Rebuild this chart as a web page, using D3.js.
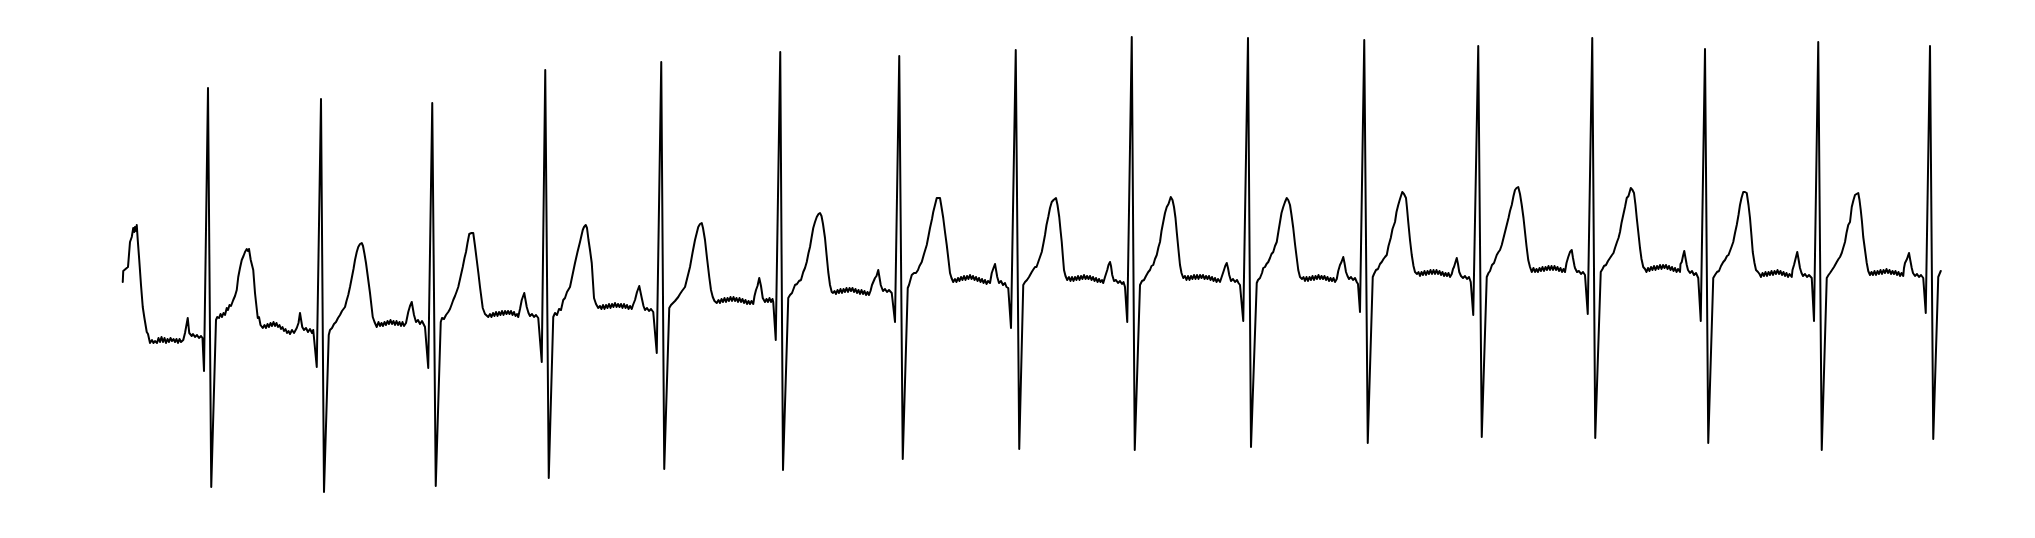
<!DOCTYPE html>
<html>
<head>
<meta charset="utf-8">
<script src="https://cdn.jsdelivr.net/npm/d3@7"></script>
<style>
  html, body { margin: 0; padding: 0; background: #ffffff; }
  svg { display: block; }
</style>
</head>
<body>
<div id="chart"></div>
<script>
// ECG trace: [time in ms, amplitude in mV], grouped by beat (each ends at the S wave)
const beat01 = [[11,0.18],[13,0.29],[27,0.32],[32,0.33],[40,0.58],[47,0.63],[53,0.72],[57,0.68],[60,0.73],[64,0.69],[67,0.75],[71,0.60],[77,0.40],[84,0.15],[91,-0.07],[97,-0.17],[107,-0.32],[112,-0.34],[120,-0.43],[128,-0.40],[134,-0.43],[140,-0.41],[148,-0.43],[154,-0.38],[160,-0.42],[166,-0.37],[172,-0.42],[178,-0.38],[184,-0.43],[190,-0.39],[196,-0.42],[202,-0.38],[208,-0.41],[214,-0.39],[220,-0.42],[226,-0.39],[232,-0.43],[238,-0.39],[244,-0.42],[253,-0.40],[260,-0.33],[271,-0.18],[277,-0.33],[287,-0.36],[292,-0.34],[300,-0.37],[308,-0.35],[316,-0.38],[324,-0.36],[330,-0.38],[336,-0.71],[352,2.12],[365,-1.87]];
const beat02 = [[384,-0.20],[389,-0.17],[396,-0.18],[402,-0.14],[408,-0.17],[414,-0.13],[420,-0.15],[427,-0.08],[432,-0.10],[438,-0.05],[444,-0.06],[453,0.00],[460,0.04],[467,0.10],[473,0.23],[480,0.32],[487,0.40],[494,0.44],[500,0.48],[507,0.51],[512,0.49],[516,0.51],[523,0.40],[533,0.30],[540,0.07],[551,-0.18],[556,-0.17],[562,-0.25],[571,-0.28],[578,-0.25],[584,-0.28],[590,-0.24],[596,-0.27],[602,-0.23],[608,-0.26],[614,-0.22],[620,-0.26],[626,-0.23],[632,-0.27],[638,-0.25],[644,-0.29],[650,-0.27],[656,-0.31],[662,-0.29],[668,-0.33],[674,-0.31],[680,-0.34],[688,-0.30],[696,-0.33],[707,-0.28],[714,-0.23],[720,-0.13],[729,-0.27],[736,-0.30],[744,-0.28],[752,-0.32],[760,-0.29],[768,-0.33],[773,-0.30],[787,-0.67],[804,2.01],[816,-1.92]];
const beat03 = [[835,-0.35],[840,-0.30],[848,-0.28],[856,-0.24],[864,-0.22],[872,-0.18],[880,-0.15],[888,-0.11],[900,-0.07],[906,-0.01],[913,0.05],[920,0.13],[927,0.22],[934,0.31],[940,0.40],[947,0.48],[953,0.53],[960,0.56],[967,0.57],[972,0.54],[978,0.46],[984,0.37],[992,0.22],[1000,0.07],[1011,-0.17],[1018,-0.22],[1027,-0.27],[1034,-0.22],[1040,-0.26],[1046,-0.23],[1052,-0.26],[1058,-0.22],[1064,-0.25],[1070,-0.21],[1076,-0.24],[1082,-0.20],[1088,-0.24],[1094,-0.21],[1100,-0.25],[1106,-0.21],[1112,-0.25],[1118,-0.22],[1124,-0.26],[1130,-0.22],[1136,-0.26],[1144,-0.23],[1153,-0.12],[1160,-0.06],[1167,-0.02],[1176,-0.15],[1184,-0.22],[1192,-0.20],[1200,-0.24],[1208,-0.21],[1216,-0.25],[1220,-0.27],[1233,-0.68],[1249,1.97],[1263,-1.86]];
const beat04 = [[1283,-0.22],[1288,-0.18],[1296,-0.19],[1304,-0.15],[1313,-0.12],[1320,-0.09],[1326,-0.05],[1333,0.00],[1340,0.04],[1346,0.08],[1353,0.13],[1362,0.23],[1371,0.33],[1378,0.42],[1384,0.48],[1390,0.57],[1397,0.66],[1406,0.67],[1413,0.67],[1420,0.54],[1427,0.40],[1434,0.26],[1440,0.13],[1451,-0.08],[1460,-0.14],[1473,-0.17],[1480,-0.14],[1486,-0.17],[1492,-0.13],[1498,-0.16],[1504,-0.12],[1510,-0.16],[1516,-0.12],[1522,-0.15],[1528,-0.11],[1534,-0.15],[1540,-0.11],[1546,-0.14],[1552,-0.11],[1558,-0.14],[1564,-0.11],[1570,-0.15],[1576,-0.12],[1582,-0.16],[1588,-0.14],[1593,-0.17],[1600,-0.09],[1607,0.00],[1617,0.07],[1627,-0.07],[1634,-0.13],[1640,-0.16],[1648,-0.14],[1656,-0.17],[1664,-0.15],[1673,-0.18],[1687,-0.62],[1701,2.30],[1715,-1.78]];
const beat05 = [[1733,-0.17],[1740,-0.13],[1748,-0.15],[1756,-0.09],[1764,-0.10],[1773,0.00],[1780,0.02],[1788,0.08],[1800,0.13],[1810,0.25],[1820,0.37],[1830,0.48],[1840,0.58],[1851,0.70],[1856,0.73],[1863,0.75],[1868,0.72],[1874,0.60],[1880,0.50],[1887,0.37],[1896,0.02],[1904,-0.04],[1913,-0.08],[1920,-0.06],[1926,-0.09],[1932,-0.05],[1938,-0.09],[1944,-0.05],[1950,-0.08],[1956,-0.04],[1962,-0.08],[1968,-0.04],[1974,-0.07],[1980,-0.03],[1986,-0.07],[1992,-0.04],[1998,-0.07],[2004,-0.04],[2010,-0.08],[2016,-0.04],[2022,-0.08],[2028,-0.05],[2034,-0.09],[2040,-0.06],[2047,-0.09],[2052,-0.05],[2060,0.00],[2068,0.08],[2077,0.14],[2087,0.02],[2094,-0.06],[2100,-0.10],[2108,-0.08],[2116,-0.11],[2124,-0.09],[2133,-0.12],[2147,-0.53],[2165,2.38],[2177,-1.69]];
const beat06 = [[2197,-0.08],[2204,-0.05],[2212,-0.03],[2220,-0.01],[2233,0.03],[2240,0.06],[2248,0.09],[2260,0.13],[2270,0.23],[2280,0.33],[2290,0.47],[2300,0.60],[2307,0.67],[2313,0.73],[2320,0.76],[2327,0.77],[2332,0.72],[2340,0.60],[2348,0.42],[2357,0.23],[2364,0.10],[2371,0.03],[2378,-0.01],[2387,-0.03],[2394,0.00],[2400,-0.03],[2406,0.01],[2412,-0.02],[2418,0.02],[2424,-0.02],[2430,0.02],[2436,-0.01],[2442,0.03],[2448,-0.01],[2454,0.03],[2460,-0.01],[2466,0.02],[2472,-0.02],[2478,0.02],[2484,-0.02],[2490,0.01],[2496,-0.03],[2502,0.00],[2508,-0.04],[2514,-0.01],[2520,-0.04],[2526,-0.01],[2533,-0.04],[2538,0.04],[2544,0.10],[2550,0.14],[2557,0.22],[2564,0.14],[2571,0.02],[2580,-0.02],[2586,0.01],[2592,-0.02],[2598,0.02],[2604,-0.02],[2610,0.01],[2613,-0.02],[2623,-0.40],[2641,2.48],[2652,-1.70]];
const beat07 = [[2673,0.02],[2680,0.05],[2688,0.07],[2700,0.15],[2708,0.16],[2716,0.19],[2724,0.20],[2733,0.28],[2740,0.32],[2747,0.38],[2754,0.47],[2760,0.53],[2766,0.62],[2773,0.72],[2780,0.78],[2787,0.83],[2794,0.86],[2800,0.87],[2806,0.84],[2812,0.76],[2820,0.62],[2826,0.46],[2833,0.28],[2840,0.15],[2847,0.08],[2852,0.07],[2858,0.09],[2864,0.06],[2870,0.10],[2876,0.07],[2882,0.11],[2888,0.07],[2894,0.11],[2900,0.08],[2906,0.12],[2912,0.08],[2918,0.12],[2924,0.09],[2930,0.12],[2936,0.08],[2942,0.11],[2948,0.07],[2954,0.10],[2960,0.06],[2966,0.10],[2972,0.06],[2978,0.09],[2984,0.05],[2990,0.08],[2996,0.05],[3002,0.09],[3008,0.15],[3020,0.22],[3026,0.24],[3033,0.30],[3043,0.15],[3052,0.09],[3060,0.11],[3068,0.08],[3076,0.10],[3087,0.07],[3100,-0.22],[3117,2.44],[3131,-1.59]];
const beat08 = [[3151,0.12],[3156,0.15],[3167,0.25],[3176,0.27],[3184,0.27],[3192,0.30],[3198,0.34],[3207,0.38],[3216,0.46],[3227,0.55],[3234,0.64],[3240,0.72],[3248,0.81],[3253,0.88],[3260,0.95],[3267,1.02],[3274,1.02],[3280,1.02],[3286,0.93],[3293,0.82],[3300,0.68],[3307,0.55],[3314,0.40],[3320,0.27],[3326,0.22],[3333,0.18],[3340,0.21],[3346,0.18],[3352,0.22],[3358,0.19],[3364,0.23],[3370,0.20],[3376,0.24],[3382,0.20],[3388,0.24],[3394,0.21],[3400,0.25],[3406,0.21],[3412,0.24],[3418,0.20],[3424,0.23],[3430,0.19],[3436,0.22],[3442,0.18],[3448,0.21],[3454,0.17],[3460,0.20],[3466,0.16],[3472,0.19],[3480,0.17],[3487,0.27],[3494,0.32],[3500,0.36],[3509,0.23],[3516,0.17],[3524,0.19],[3532,0.15],[3540,0.17],[3546,0.13],[3553,0.12],[3564,-0.28],[3583,2.50],[3597,-1.49]];
const beat09 = [[3613,0.15],[3620,0.18],[3628,0.20],[3636,0.23],[3647,0.28],[3652,0.30],[3660,0.33],[3666,0.33],[3673,0.38],[3680,0.43],[3687,0.48],[3694,0.57],[3700,0.65],[3706,0.75],[3713,0.83],[3720,0.92],[3727,0.98],[3734,1.00],[3744,1.02],[3750,0.95],[3757,0.83],[3762,0.70],[3767,0.58],[3772,0.42],[3776,0.30],[3782,0.24],[3789,0.20],[3796,0.23],[3802,0.19],[3808,0.23],[3814,0.19],[3820,0.23],[3826,0.20],[3832,0.24],[3838,0.20],[3844,0.24],[3850,0.21],[3856,0.25],[3862,0.21],[3868,0.24],[3874,0.21],[3880,0.24],[3886,0.20],[3892,0.23],[3898,0.19],[3904,0.22],[3910,0.18],[3916,0.21],[3922,0.18],[3928,0.20],[3933,0.17],[3940,0.23],[3949,0.30],[3954,0.35],[3960,0.38],[3964,0.34],[3969,0.25],[3976,0.19],[3984,0.20],[3992,0.17],[4000,0.19],[4008,0.16],[4014,0.18],[4020,0.13],[4029,-0.22],[4047,2.63],[4059,-1.50]];
const beat10 = [[4080,0.15],[4088,0.19],[4096,0.20],[4104,0.24],[4113,0.28],[4120,0.30],[4126,0.34],[4133,0.35],[4140,0.41],[4147,0.45],[4154,0.53],[4160,0.58],[4166,0.69],[4173,0.78],[4180,0.87],[4187,0.93],[4194,0.96],[4203,1.03],[4210,1.00],[4216,0.93],[4222,0.82],[4227,0.68],[4234,0.50],[4240,0.35],[4246,0.27],[4253,0.22],[4260,0.24],[4266,0.20],[4272,0.24],[4278,0.20],[4284,0.24],[4290,0.21],[4296,0.25],[4302,0.21],[4308,0.25],[4314,0.21],[4320,0.25],[4326,0.22],[4332,0.25],[4338,0.21],[4344,0.24],[4350,0.21],[4356,0.24],[4362,0.20],[4368,0.23],[4374,0.19],[4380,0.22],[4386,0.18],[4392,0.21],[4400,0.18],[4408,0.24],[4416,0.30],[4421,0.34],[4427,0.37],[4432,0.32],[4437,0.25],[4444,0.19],[4452,0.21],[4460,0.18],[4468,0.20],[4474,0.17],[4480,0.15],[4493,-0.21],[4512,2.62],[4524,-1.47]];
const beat11 = [[4547,0.17],[4552,0.20],[4560,0.22],[4568,0.27],[4573,0.32],[4580,0.33],[4586,0.36],[4593,0.38],[4600,0.42],[4606,0.46],[4613,0.48],[4620,0.54],[4627,0.58],[4634,0.69],[4640,0.78],[4646,0.87],[4653,0.93],[4660,0.98],[4667,1.02],[4673,1.00],[4680,0.95],[4686,0.85],[4693,0.72],[4700,0.56],[4707,0.42],[4713,0.30],[4720,0.23],[4728,0.21],[4734,0.23],[4740,0.19],[4746,0.23],[4752,0.19],[4758,0.23],[4764,0.20],[4770,0.24],[4776,0.20],[4782,0.24],[4788,0.21],[4794,0.25],[4800,0.21],[4806,0.24],[4812,0.21],[4818,0.24],[4824,0.20],[4830,0.23],[4836,0.19],[4842,0.22],[4848,0.19],[4854,0.22],[4860,0.18],[4867,0.21],[4873,0.29],[4880,0.35],[4886,0.38],[4893,0.43],[4898,0.37],[4904,0.28],[4910,0.24],[4916,0.21],[4924,0.23],[4932,0.20],[4940,0.22],[4947,0.18],[4952,0.16],[4960,-0.12],[4977,2.60],[4991,-1.43]];
const beat12 = [[5011,0.23],[5016,0.26],[5024,0.30],[5032,0.31],[5040,0.36],[5047,0.38],[5054,0.41],[5060,0.43],[5067,0.45],[5074,0.54],[5083,0.62],[5090,0.71],[5100,0.78],[5106,0.88],[5113,0.95],[5120,1.01],[5129,1.08],[5136,1.06],[5144,1.02],[5148,0.92],[5153,0.78],[5160,0.60],[5167,0.45],[5174,0.34],[5180,0.28],[5188,0.26],[5194,0.28],[5200,0.24],[5206,0.28],[5212,0.25],[5218,0.29],[5224,0.25],[5230,0.29],[5236,0.26],[5242,0.30],[5248,0.26],[5254,0.30],[5260,0.26],[5266,0.30],[5272,0.26],[5278,0.29],[5284,0.25],[5290,0.28],[5296,0.24],[5302,0.27],[5308,0.24],[5314,0.27],[5320,0.23],[5327,0.26],[5332,0.31],[5336,0.33],[5342,0.38],[5347,0.42],[5352,0.36],[5357,0.28],[5364,0.24],[5372,0.22],[5380,0.24],[5388,0.21],[5396,0.23],[5403,0.18],[5413,-0.15],[5433,2.54],[5447,-1.37]];
const beat13 = [[5467,0.23],[5474,0.27],[5480,0.29],[5488,0.35],[5496,0.37],[5507,0.45],[5514,0.48],[5520,0.50],[5527,0.55],[5534,0.62],[5540,0.68],[5547,0.75],[5554,0.82],[5560,0.89],[5567,0.95],[5574,1.04],[5580,1.10],[5586,1.12],[5593,1.13],[5600,1.06],[5607,0.95],[5614,0.82],[5620,0.68],[5626,0.54],[5633,0.40],[5640,0.33],[5647,0.28],[5654,0.32],[5660,0.28],[5666,0.31],[5672,0.28],[5678,0.32],[5684,0.29],[5690,0.33],[5696,0.29],[5702,0.33],[5708,0.30],[5714,0.34],[5720,0.30],[5726,0.34],[5732,0.30],[5738,0.34],[5744,0.30],[5750,0.33],[5756,0.29],[5762,0.32],[5768,0.28],[5774,0.31],[5780,0.28],[5786,0.37],[5793,0.43],[5800,0.48],[5807,0.50],[5812,0.42],[5818,0.34],[5820,0.32],[5828,0.28],[5836,0.29],[5844,0.26],[5852,0.28],[5860,0.25],[5871,-0.14],[5889,2.62],[5901,-1.38]];
const beat14 = [[5923,0.28],[5930,0.31],[5936,0.34],[5944,0.35],[5952,0.39],[5960,0.42],[5968,0.45],[5974,0.47],[5980,0.52],[5988,0.58],[5994,0.62],[6000,0.68],[6006,0.77],[6013,0.85],[6020,0.93],[6027,1.02],[6034,1.04],[6043,1.12],[6050,1.10],[6056,1.07],[6062,0.95],[6067,0.82],[6074,0.66],[6080,0.52],[6086,0.41],[6093,0.33],[6100,0.31],[6106,0.28],[6112,0.32],[6118,0.29],[6124,0.33],[6130,0.30],[6136,0.34],[6142,0.30],[6148,0.34],[6154,0.31],[6160,0.35],[6166,0.31],[6172,0.35],[6178,0.32],[6184,0.35],[6190,0.31],[6196,0.34],[6202,0.30],[6208,0.33],[6214,0.29],[6220,0.32],[6226,0.28],[6232,0.31],[6240,0.28],[6242,0.36],[6247,0.38],[6252,0.44],[6257,0.49],[6262,0.42],[6267,0.35],[6272,0.30],[6280,0.27],[6288,0.29],[6296,0.25],[6304,0.27],[6313,0.22],[6323,-0.21],[6340,2.51],[6353,-1.43]];
const beat15 = [[6373,0.22],[6380,0.25],[6388,0.28],[6396,0.29],[6404,0.34],[6413,0.38],[6420,0.40],[6428,0.44],[6434,0.45],[6440,0.49],[6446,0.53],[6453,0.58],[6460,0.67],[6467,0.75],[6474,0.85],[6480,0.95],[6486,1.02],[6493,1.08],[6500,1.08],[6507,1.07],[6514,0.95],[6520,0.82],[6526,0.64],[6531,0.48],[6538,0.37],[6544,0.30],[6552,0.28],[6558,0.26],[6564,0.23],[6570,0.27],[6576,0.24],[6582,0.28],[6588,0.24],[6594,0.28],[6600,0.25],[6606,0.29],[6612,0.25],[6618,0.29],[6624,0.26],[6630,0.30],[6636,0.26],[6642,0.29],[6648,0.25],[6654,0.28],[6660,0.24],[6666,0.27],[6672,0.23],[6678,0.26],[6687,0.23],[6690,0.30],[6696,0.35],[6702,0.41],[6709,0.48],[6714,0.41],[6720,0.32],[6726,0.27],[6732,0.24],[6740,0.26],[6748,0.23],[6756,0.25],[6767,0.22],[6776,-0.21],[6793,2.58],[6807,-1.50]];
const beat16 = [[6827,0.22],[6834,0.25],[6840,0.27],[6848,0.30],[6856,0.33],[6867,0.38],[6874,0.41],[6880,0.43],[6887,0.47],[6894,0.53],[6900,0.58],[6906,0.67],[6913,0.75],[6920,0.78],[6927,0.93],[6934,1.00],[6940,1.05],[6946,1.06],[6953,1.07],[6958,1.00],[6963,0.90],[6968,0.78],[6973,0.63],[6980,0.50],[6987,0.37],[6993,0.29],[7000,0.25],[7006,0.28],[7012,0.25],[7018,0.29],[7024,0.25],[7030,0.29],[7036,0.26],[7042,0.30],[7048,0.26],[7054,0.30],[7060,0.27],[7066,0.31],[7072,0.27],[7078,0.30],[7084,0.26],[7090,0.29],[7096,0.26],[7102,0.29],[7108,0.25],[7114,0.28],[7120,0.24],[7126,0.27],[7133,0.24],[7136,0.32],[7140,0.37],[7148,0.41],[7156,0.47],[7161,0.40],[7167,0.32],[7172,0.27],[7180,0.24],[7188,0.26],[7196,0.23],[7204,0.25],[7213,0.22],[7223,-0.13],[7240,2.54],[7253,-1.39]];
const tail = [[7273,0.23],[7278,0.26],[7283,0.29]];

const beats = [beat01, beat02, beat03, beat04, beat05, beat06, beat07, beat08,
               beat09, beat10, beat11, beat12, beat13, beat14, beat15, beat16, tail];
const signal = beats.flat();

const W = 2035, H = 538;
const svg = d3.select("#chart").append("svg")
  .attr("width", W).attr("height", H)
  .style("background", "#ffffff");

const x = d3.scaleLinear().domain([0, 7280]).range([120, 1940]);
const y = d3.scaleLinear().domain([-2, 2.7]).range([500, 30]);

const line = d3.line()
  .x(d => x(d[0]))
  .y(d => y(d[1]));

svg.append("path")
  .datum(signal)
  .attr("d", line)
  .attr("fill", "none")
  .attr("stroke", "#000000")
  .attr("stroke-width", 2)
  .attr("stroke-linejoin", "round")
  .attr("stroke-linecap", "round");
</script>
</body>
</html>
